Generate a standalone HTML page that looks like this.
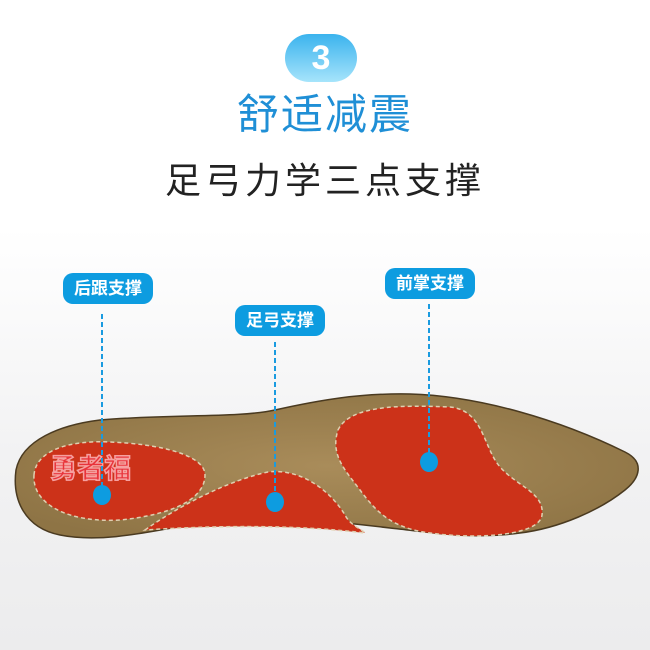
<!DOCTYPE html>
<html><head><meta charset="utf-8"><style>
html,body{margin:0;padding:0;}
body{width:650px;height:650px;position:relative;overflow:hidden;background:linear-gradient(#ffffff 0%,#ffffff 35%,#f2f2f3 70%,#ececed 100%);font-family:"Liberation Sans","Noto Sans CJK SC",sans-serif;}
.badge{position:absolute;left:285px;top:34px;width:72px;height:48px;border-radius:24px;background:linear-gradient(#3bb3ee,#a6e4fb);color:#fff;font-weight:bold;font-size:34px;line-height:48px;text-align:center;}
.t1{position:absolute;left:0;width:650px;top:88px;text-align:center;color:#1f8fd6;font-size:42px;line-height:54px;letter-spacing:2px;}
.t2{position:absolute;left:0;width:650px;top:158px;text-align:center;color:#222;font-size:36px;line-height:46px;letter-spacing:4px;}
.pill{position:absolute;width:90px;height:31px;border-radius:10px;background:#0d9ce0;color:#fff;font-size:17px;font-weight:bold;line-height:31px;text-align:center;}
svg{position:absolute;left:0;top:0;}
</style></head><body>
<div class="badge">3</div>
<div class="t1">舒适减震</div>
<div class="t2">足弓力学三点支撑</div>
<svg width="650" height="650">
<defs><radialGradient id="sh" cx="0.5" cy="0.5" r="0.6"><stop offset="0" stop-color="#a98c5a"/><stop offset="1" stop-color="#8e7445"/></radialGradient></defs>
<path d="M16,470 C22,440 60,425 100,420 C170,414 240,418 275,410 C320,400 360,393 410,394 C480,396 560,420 625,452 C645,462 640,478 625,490 C600,510 560,528 520,533 C470,540 430,532 390,528 C340,522 280,515 220,520 C170,526 110,545 60,535 C25,528 12,500 16,470 Z" fill="url(#sh)" stroke="#4a3a20" stroke-width="1.5"/>
<path d="M34,475 C36,450 70,440 110,442 C160,444 205,455 205,475 C205,500 170,515 120,520 C70,523 32,505 34,475 Z" fill="#cc3219" stroke="#e0cfb0" stroke-width="1.5" stroke-dasharray="4,3"/>
<path d="M145,530 C180,505 230,480 268,472 C300,468 330,490 345,515 C350,525 360,528 365,533 C300,525 220,525 145,530 Z" fill="#cc3219" stroke="#e0cfb0" stroke-width="1.5" stroke-dasharray="4,3"/>
<path d="M338,430 C350,405 400,405 450,407 C480,410 483,440 495,460 C510,485 545,490 542,515 C540,535 480,540 430,533 C390,528 375,510 360,490 C345,470 330,455 338,430 Z" fill="#cc3219" stroke="#e0cfb0" stroke-width="1.5" stroke-dasharray="4,3"/>
<text x="50" x2="" y="478" font-family="Liberation Sans,Noto Sans CJK SC,sans-serif" font-size="27" font-weight="bold" fill="#e8333a" stroke="#f6a0a0" stroke-width="1.5">勇者福</text>
<g stroke="#1a9be0" stroke-width="2" stroke-dasharray="5,3">
<line x1="102" y1="314" x2="102" y2="495"/>
<line x1="275" y1="342" x2="275" y2="500"/>
<line x1="429" y1="304" x2="429" y2="462"/>
</g>
<g fill="#0d9ce0">
<ellipse cx="102" cy="495" rx="9" ry="10"/>
<ellipse cx="275" cy="502" rx="9" ry="10"/>
<ellipse cx="429" cy="462" rx="9" ry="10"/>
</g>
</svg>
<div class="pill" style="left:63px;top:273px">后跟支撑</div>
<div class="pill" style="left:235px;top:305px">足弓支撑</div>
<div class="pill" style="left:385px;top:268px">前掌支撑</div>
</body></html>
